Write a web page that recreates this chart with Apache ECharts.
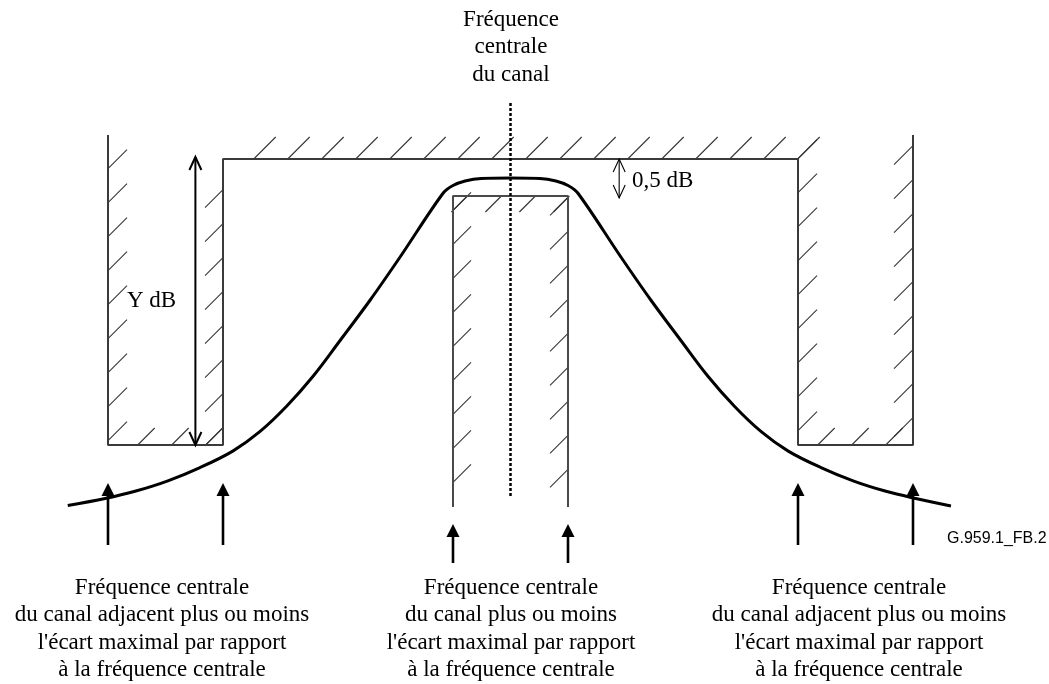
<!DOCTYPE html>
<html><head><meta charset="utf-8">
<script src="https://cdn.jsdelivr.net/npm/echarts@6/dist/echarts.min.js"></script>
<style>html,body{margin:0;padding:0;background:#fff}#c{width:1049px;height:684px}</style>
</head><body><div id="c"></div>
<script>
// ---- Data (x: frequency offset units; y: relative level units) ----
const maskOuter = [[-7,2.4],[-7,-28.6],[-5,-28.6],[-5,0],[5,0],[5,-28.6],[7,-28.6],[7,2.4]];
const maskCenter = [[-1,-34.8],[-1,-3.7],[1,-3.7],[1,-34.8]];
const curveX = [-7.70,-7.05,-6.53,-5.97,-5.40,-4.83,-4.36,-3.89,-3.43,-2.97,-2.44,-1.92,-1.17,-1.00,-0.79,-0.51,0,
                0.51,0.79,1.00,1.17,1.92,2.44,2.97,3.43,3.89,4.36,4.83,5.40,5.97,6.53,7.05,7.66];
const curveY = [-34.65,-33.95,-33.23,-32.21,-30.86,-29.21,-27.27,-24.70,-21.70,-18.20,-14.10,-9.80,-3.40,-2.65,-2.20,-1.95,-1.90,
                -1.95,-2.20,-2.65,-3.40,-9.80,-14.10,-18.20,-21.70,-24.70,-27.27,-29.21,-30.86,-32.21,-33.23,-33.95,-34.70];
const arrowX = [-7,-5,-1,1,5,7];
const arrowBase = [-38.6,-38.6,-40.4,-40.4,-38.6,-38.6];
const arrowTip = [-32.4,-32.4,-36.5,-36.5,-32.4,-32.4];
const centerLineX = [0,0];
const centerLineY = [5.6,-33.8];
const yDbArrow = [-5.48, 0.2, -28.6];
const halfDbArrow = [1.89, 0, -3.9];
const topLabel = 'Fréquence\ncentrale\ndu canal';
const sideLabel = 'Fréquence centrale\ndu canal adjacent plus ou moins\nl\'écart maximal par rapport\nà la fréquence centrale';
const midLabel = 'Fréquence centrale\ndu canal plus ou moins\nl\'écart maximal par rapport\nà la fréquence centrale';
const yDbLabel = 'Y dB';
const halfDbLabel = '0,5 dB';
const figId = 'G.959.1_FB.2';

// ---- Hatching configuration (styling only) ----
const hatchSpecs = [
  {poly: maskOuter, side: [1,1,-1,1,1,1,-1], len: [19,17,18,22,19,17,19], phase: 4.7},
  {poly: maskCenter, side: [1,-1,-1], len: [18,16,18], phase: 17.4}
];
const PITCH = 34;

function hatchItem(params, api) {
  const spec = hatchSpecs[params.dataIndex];
  const pts = spec.poly.map(p => api.coord(p));
  const children = [];
  const n = pts.length - 1;
  for (let i = 0; i < n; i++) {
    const A = pts[i], B = pts[i+1];
    const segLen = Math.hypot(B[0]-A[0], B[1]-A[1]);
    const sA = A[0]+A[1], sB = B[0]+B[1];
    const ds = (sB - sA) / segLen;
    if (Math.abs(ds) < 0.01) continue;
    const tolA = i === 0 ? -4 : 2.5, tolB = i === n-1 ? -4 : 2.5;
    const s1 = sA + ds*(-tolA), s2 = sA + ds*(segLen+tolB);
    const lo = Math.min(s1,s2), hi = Math.max(s1,s2);
    const L = spec.len[i];
    for (let k = Math.ceil((lo - spec.phase)/PITCH); spec.phase + PITCH*k <= hi; k++) {
      const s = spec.phase + PITCH*k;
      const t = (s - sA) / ds;
      const P = [A[0] + (B[0]-A[0])*t/segLen, A[1] + (B[1]-A[1])*t/segLen];
      let shape;
      if (spec.side[i] > 0) shape = {x1:P[0], y1:P[1], x2:P[0]+L, y2:P[1]-L};
      else shape = {x1:P[0]-L, y1:P[1]+L, x2:P[0], y2:P[1]};
      children.push({type:'line', shape, style:{stroke:'#333', lineWidth:1.1}});
    }
  }
  return {type:'group', children};
}

function upArrow(params, api) {
  const b = api.coord([api.value(0), api.value(1)]);
  const t = api.coord([api.value(0), api.value(2)]);
  const h = 13, w = 6.5;
  return {type:'group', children:[
    {type:'line', shape:{x1:b[0], y1:b[1], x2:t[0], y2:t[1]+h-1}, style:{stroke:'#000', lineWidth:2.6}},
    {type:'polygon', shape:{points:[[t[0],t[1]],[t[0]-w,t[1]+h],[t[0]+w,t[1]+h]]}, style:{fill:'#000'}}
  ]};
}

function dblArrow(lw) {
  return function(params, api) {
    const a = api.coord([api.value(0), api.value(1)]);
    const b = api.coord([api.value(0), api.value(2)]);
    const h = 13, w = 6;
    const st = {stroke:'#000', lineWidth:lw, fill:null};
    return {type:'group', children:[
      {type:'line', shape:{x1:a[0], y1:a[1], x2:b[0], y2:b[1]}, style:st},
      {type:'polyline', shape:{points:[[a[0]-w,a[1]+h],[a[0],a[1]],[a[0]+w,a[1]+h]]}, style:st},
      {type:'polyline', shape:{points:[[b[0]-w,b[1]-h],[b[0],b[1]],[b[0]+w,b[1]-h]]}, style:st}
    ]};
  };
}

const chart = echarts.init(document.getElementById('c'), null, {renderer:'canvas'});
const serif = '"Liberation Serif", "Times New Roman", serif';
const txt = (text, x, y, align, size, family) => ({
  type:'text', x, y, silent:true,
  style:{text, align, verticalAlign:'middle', fontSize:size, fontFamily:family, lineHeight:27.5, fill:'#000'}
});

chart.setOption({
  animation:false,
  backgroundColor:'#fff',
  grid:{left:50.5, right:78.5, top:9, bottom:5},
  xAxis:{type:'value', min:-8, max:8, show:false},
  yAxis:{type:'value', min:-52, max:15, show:false},
  series:[
    {type:'custom', renderItem:hatchItem, data:hatchSpecs.map((s,i)=>[0,0]), silent:true, z:1},
    {type:'line', data:maskOuter, symbol:'none', silent:true, z:2,
     lineStyle:{color:'#3a3a3a', width:2}},
    {type:'line', data:maskCenter, symbol:'none', silent:true, z:2,
     lineStyle:{color:'#4a4a4a', width:2}},
    {type:'line', data:centerLineX.map((x,i)=>[x, centerLineY[i]]), symbol:'none', silent:true, z:3,
     lineStyle:{color:'#000', width:2.5, type:[3,2]}},
    {type:'line', data:curveX.map((x,i)=>[x, curveY[i]]), symbol:'none', smooth:0.35, silent:true, z:4,
     lineStyle:{color:'#000', width:3}},
    {type:'custom', renderItem:upArrow, data:arrowX.map((x,i)=>[x, arrowBase[i], arrowTip[i]]), silent:true, z:5},
    {type:'custom', renderItem:dblArrow(2), data:[yDbArrow], silent:true, z:5},
    {type:'custom', renderItem:dblArrow(1.1), data:[halfDbArrow], silent:true, z:5}
  ],
  graphic:[
    txt(topLabel, 511, 47, 'center', 23, serif),
    txt(sideLabel, 162, 629, 'center', 23, serif),
    txt(midLabel, 511, 629, 'center', 23, serif),
    txt(sideLabel, 859, 629, 'center', 23, serif),
    txt(yDbLabel, 127, 301, 'left', 23, serif),
    txt(halfDbLabel, 632, 181, 'left', 23, serif),
    txt(figId, 947, 539, 'left', 16, '"Liberation Sans", Arial, sans-serif')
  ]
});
</script></body></html>
